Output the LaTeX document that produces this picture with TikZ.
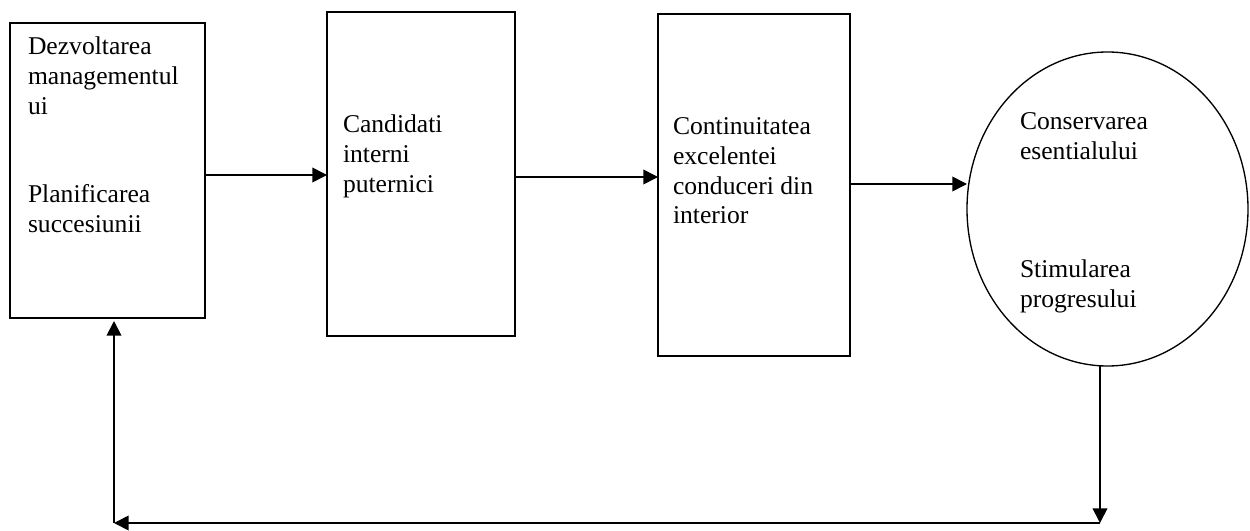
\documentclass[tikz,border=0pt]{standalone}
\usepackage{fontspec}
\setmainfont{Liberation Serif}
\usetikzlibrary{arrows.meta,shapes.geometric}
\newcommand{\linesbox}[1]{\vtop{\fontsize{19.2pt}{22.2pt}\selectfont\baselineskip=22.2pt\relax #1}}
\begin{document}
\begin{tikzpicture}[x=0.75pt,y=-0.75pt,
  box/.style={draw,line width=1.4pt,rectangle,inner sep=0pt,outer sep=0pt,anchor=north west},
  oval/.style={draw,line width=1pt,ellipse,inner sep=0pt,outer sep=0pt},
  txt/.style={anchor=base west,inner sep=0pt,outer sep=0pt},
  conn/.style={line width=1.3pt,-{Triangle[length=11pt,width=11pt]}}]
\useasboundingbox (0,0) rectangle (1250,531);
\node[box,minimum width=146.25pt,minimum height=221.25pt] (b1) at (10,23) {};
\node[box,minimum width=141pt,minimum height=243pt] (b2) at (327,12) {};
\node[box,minimum width=144pt,minimum height=256.5pt] (b3) at (658,14) {};
\node[oval,minimum width=210.75pt,minimum height=235.5pt] (e) at (1107.5,209) {};
\node[txt] (t1) at (28,55) {\linesbox{\hbox{Dezvoltarea}\hbox{managementul}\hbox{ui}\hbox{}\hbox{}\hbox{Planificarea}\hbox{succesiunii}}};
\node[txt] (t2) at (343,133) {\linesbox{\hbox{Candidati}\hbox{interni}\hbox{puternici}}};
\node[txt] (t3) at (673,135) {\linesbox{\hbox{Continuitatea}\hbox{excelentei}\hbox{conduceri din}\hbox{interior}}};
\node[txt] (t4) at (1020,130) {\linesbox{\hbox{Conservarea}\hbox{esentialului}\hbox{}\hbox{}\hbox{}\hbox{Stimularea}\hbox{progresului}}};
\coordinate (a1) at (205,175);
\coordinate (a2) at (515,177);
\coordinate (a3) at (850,184);
\coordinate (d0) at (1100,366);
\coordinate (d1) at (1100,523);
\coordinate (c1) at (114,523);
\coordinate (u1) at (114,321);
\draw[conn] (a1) -- (a1 -| b2.west);
\draw[conn] (a2) -- (a2 -| b3.west);
\draw[conn] (a3) -- (a3 -| e.west);
\draw[conn] (d0) -- (d1);
\draw[conn] (d1) -- (c1);
\draw[conn] (c1) -- (u1);
\end{tikzpicture}
\end{document}
